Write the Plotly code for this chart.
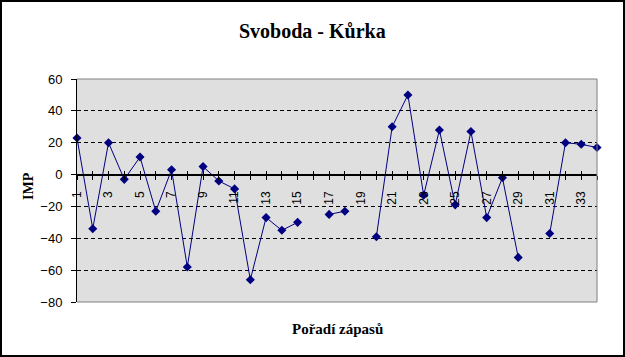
import plotly.graph_objects as go

# ---- data ----
matches = list(range(1, 35))
imp = [23, -34, 20, -3, 11, -23, 3, -58, 5, -4,
       -9, -66, -27, -35, -30, None, -25, -23, None, -39,
       30, 50, -13, 28, -19, 27, -27, -2, -52, None,
       -37, 20, 19, 17]
tick_text = [str(m) if m % 2 == 1 else "" for m in matches]
y_ticks = [-80, -60, -40, -20, 0, 20, 40, 60]

title_text = "Svoboda - Kůrka"
x_title = "Pořadí zápasů"
y_title = "IMP"

# ---- layout geometry (pixels) ----
W, H = 625, 357
L, R, T, B = 77, 597, 79, 302
pw, ph = R - L, B - T


def px(x):
    return (x - L) / pw


def py(y):
    return (B - y) / ph


ymin, ymax = -80, 60
zero_pos = (0 - ymin) / (ymax - ymin)

navy = "#000080"

fig = go.Figure()
fig.add_trace(go.Scatter(
    x=matches, y=imp, mode="lines+markers",
    line=dict(color=navy, width=1),
    marker=dict(symbol="diamond", size=7, color=navy),
    cliponaxis=False, showlegend=False, connectgaps=False,
))
# dummy trace to show second (upward tick) x axis
fig.add_trace(go.Scatter(
    x=matches, y=imp, xaxis="x2", mode="none",
    showlegend=False, hoverinfo="skip",
))

axis_font = dict(family="Liberation Sans, Arial", size=13, color="black")

fig.update_layout(
    width=W, height=H,
    margin=dict(l=L, r=W - R, t=T, b=H - B, pad=0),
    paper_bgcolor="white",
    plot_bgcolor="#DFDFDF",
    showlegend=False,
    xaxis=dict(
        range=[1, 34], tickmode="array", tickvals=matches, ticktext=tick_text,
        tickangle=-90, ticks="outside", ticklen=4, tickcolor="black",
        showline=True, linecolor="black", linewidth=1,
        showgrid=False, zeroline=False,
        anchor="free", position=zero_pos, ticklabelstandoff=7,
        tickfont=dict(family="Liberation Sans, Arial", size=12, color="black"),
    ),
    xaxis2=dict(
        range=[1, 34], overlaying="x", tickmode="array", tickvals=matches,
        ticktext=[""] * len(matches), ticks="inside", ticklen=4,
        tickcolor="black", showline=False, showgrid=False, zeroline=False,
        anchor="free", position=zero_pos, side="bottom",
    ),
    yaxis=dict(
        range=[ymin, ymax], tickmode="array", tickvals=y_ticks,
        ticks="outside", ticklen=5, tickcolor="black",
        showline=True, linecolor="black", linewidth=1,
        showgrid=True, gridcolor="black", gridwidth=1, griddash="4px,3px",
        zeroline=True, zerolinecolor="black", zerolinewidth=1,
        tickfont=axis_font, ticklabelstandoff=6,
    ),
    annotations=[
        dict(text=f"<b>{title_text}</b>", x=px(312), y=py(31),
             xref="paper", yref="paper", xanchor="center", yanchor="middle",
             showarrow=False,
             font=dict(family="Liberation Serif, Times New Roman", size=20, color="black")),
        dict(text=f"<b>{x_title}</b>", x=px(337), y=py(329),
             xref="paper", yref="paper", xanchor="center", yanchor="middle",
             showarrow=False,
             font=dict(family="Liberation Serif, Times New Roman", size=15, color="black")),
        dict(text=f"<b>{y_title}</b>", x=px(28), y=py(186), textangle=-90,
             xref="paper", yref="paper", xanchor="center", yanchor="middle",
             showarrow=False,
             font=dict(family="Liberation Serif, Times New Roman", size=14, color="black")),
    ],
    shapes=[
        # plot-area border (top, right, bottom) in gray
        dict(type="path", xref="paper", yref="paper",
             path="M 0 1 L 1 1 L 1 0 L 0 0",
             line=dict(color="#808080", width=1), layer="above"),
        # outer chart border
        dict(type="rect", xref="paper", yref="paper",
             x0=px(1), x1=px(624), y0=py(356), y1=py(1),
             line=dict(color="black", width=2), layer="above"),
    ],
)

fig.write_html(
    "out.html",
    config={"displayModeBar": False},
    post_script="document.body.style.margin='0px';document.body.style.overflow='hidden';",
)
